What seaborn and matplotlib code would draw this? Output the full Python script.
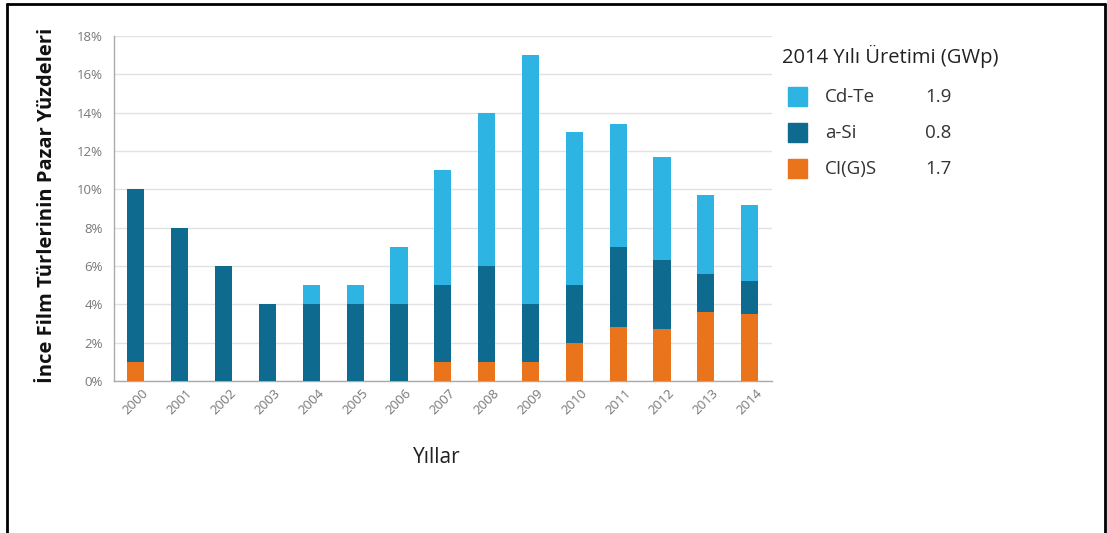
import numpy as np
import pandas as pd
import matplotlib
matplotlib.use("Agg")
import matplotlib.pyplot as plt
import seaborn as sns
from matplotlib.lines import Line2D
from matplotlib.patches import Rectangle

years = ["2000", "2001", "2002", "2003", "2004", "2005", "2006", "2007",
         "2008", "2009", "2010", "2011", "2012", "2013", "2014"]
cigs = [1, 0, 0, 0, 0, 0, 0, 1, 1, 1, 2, 2.8, 2.7, 3.6, 3.5]
asi = [9, 8, 6, 4, 4, 4, 4, 4, 5, 3, 3, 4.2, 3.6, 2.0, 1.7]
cdte = [0, 0, 0, 0, 1, 1, 3, 6, 8, 13, 8, 6.4, 5.4, 4.1, 4.0]
yticks = [0, 2, 4, 6, 8, 10, 12, 14, 16, 18]
legend_names = ["Cd-Te", "a-Si", "CI(G)S"]
legend_values = ["1.9", "0.8", "1.7"]

c_cdte = "#2db4e2"
c_asi = "#0e6a8f"
c_cigs = "#e9741b"

sns.set_style("white")
plt.rcParams["font.family"] = ["Open Sans", "DejaVu Sans"]

df = pd.DataFrame({"year": years, "cigs": cigs, "asi": asi, "cdte": cdte})
df["lvl1"] = df["cigs"]
df["lvl2"] = df["cigs"] + df["asi"]
df["lvl3"] = df["lvl2"] + df["cdte"]

fig = plt.figure(figsize=(11.07, 5.33), dpi=100)
ax = fig.add_axes([0.103, 0.285, 0.594, 0.6475])

bw = 0.39
sns.barplot(data=df, x="year", y="lvl3", color=c_cdte, width=bw, ax=ax,
            saturation=1, linewidth=0, zorder=3)
sns.barplot(data=df, x="year", y="lvl2", color=c_asi, width=bw, ax=ax,
            saturation=1, linewidth=0, zorder=4)
sns.barplot(data=df, x="year", y="lvl1", color=c_cigs, width=bw, ax=ax,
            saturation=1, linewidth=0, zorder=5)

ax.set_xlim(-0.5, len(years) - 0.5)
ax.set_ylim(0, 18)
ax.set_yticks(yticks)
ax.set_yticklabels([f"{v}%" for v in yticks])
ax.yaxis.grid(True, color="#e2e2e2", linewidth=1.0, zorder=0)
ax.set_axisbelow(True)

ax.set_xticks(np.arange(len(years)))
ax.set_xticklabels(years, rotation=45, ha="center", va="top",
                   rotation_mode="default")
ax.set_xticks(np.arange(len(years) + 1) - 0.5, minor=True)
ax.tick_params(axis="x", which="major", length=0, labelsize=9.5,
               labelcolor="#777777", pad=4)
ax.tick_params(axis="x", which="minor", length=4, color="#999999",
               direction="out", width=1)
ax.tick_params(axis="y", which="major", length=5, color="#999999",
               labelsize=9.5, labelcolor="#777777", pad=3, width=1)

for s in ["top", "right"]:
    ax.spines[s].set_visible(False)
for s in ["left", "bottom"]:
    ax.spines[s].set_color("#aaaaaa")
    ax.spines[s].set_linewidth(1.0)

ax.set_xlabel("Yıllar", fontsize=15, color="#222222")
ax.xaxis.set_label_coords(0.491, -0.19)
ax.set_ylabel("İnce Film Türlerinin Pazar Yüzdeleri", fontsize=14.5,
              fontweight="bold", color="#111111")
ax.yaxis.set_label_coords(-0.087, 0.51)

# legend block
W, H = 1107, 533
fig.text(782 / W, 1 - 56 / H, "2014 Yılı Üretimi (GWp)", fontsize=14.5,
         color="#222222", ha="left", va="center")
colors = [c_cdte, c_asi, c_cigs]
rows_y = [97, 133, 169]
for name, val, col, yy in zip(legend_names, legend_values, colors, rows_y):
    fig.patches.append(Rectangle((788 / W, 1 - (yy + 9) / H), 19 / W, 19 / H,
                                 transform=fig.transFigure, color=col,
                                 figure=fig))
    fig.text(825 / W, 1 - yy / H, name, fontsize=13.5, color="#333333",
             ha="left", va="center")
    fig.text(925 / W, 1 - yy / H, val, fontsize=13.5, color="#333333",
             ha="left", va="center")

# outer frame (left, top, right)
fig.add_artist(Line2D([7 / W, 7 / W], [0, 1 - 4 / H], color="black",
                      linewidth=2, transform=fig.transFigure))
fig.add_artist(Line2D([7 / W, 1105 / W], [1 - 4 / H, 1 - 4 / H],
                      color="black", linewidth=2, transform=fig.transFigure))
fig.add_artist(Line2D([1105 / W, 1105 / W], [0, 1 - 4 / H], color="black",
                      linewidth=2, transform=fig.transFigure))

fig.savefig("out.png", dpi=100)
